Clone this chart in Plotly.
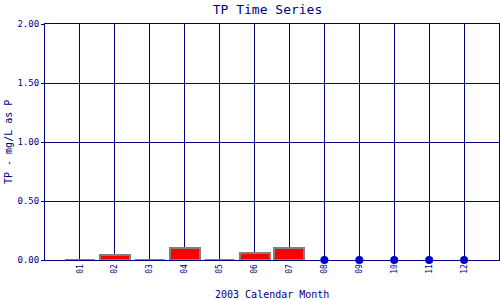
import plotly.graph_objects as go

months = [1, 2, 3, 4, 5, 6, 7, 8, 9, 10, 11, 12]
month_labels = ["01", "02", "03", "04", "05", "06", "07", "08", "09", "10", "11", "12"]
# measured TP values (mg/L as P); None = no sample (shown as dot)
tp_values = [0.0, 0.04, 0.0, 0.10, 0.0, 0.06, 0.10, None, None, None, None, None]
y_ticks = [0.0, 0.5, 1.0, 1.5, 2.0]

NAVY = "#000080"
FONT = "DejaVu Sans Mono"
BAR_W = 0.86

bar_x = [m for m, v in zip(months, tp_values) if v is not None and v > 0]
bar_y = [v for v in tp_values if v is not None and v > 0]

zero_x, zero_y = [], []
for m, v in zip(months, tp_values):
    if v == 0:
        zero_x += [m - BAR_W / 2, m + BAR_W / 2, None]
        zero_y += [0, 0, None]

dot_x = [m for m, v in zip(months, tp_values) if v is None]
dot_y = [0 for _ in dot_x]

fig = go.Figure()
fig.add_trace(go.Bar(x=bar_x, y=bar_y, width=BAR_W,
                     marker=dict(color="#FF0000", line=dict(color="#808080", width=2)),
                     cliponaxis=False, showlegend=False))
fig.add_trace(go.Scatter(x=zero_x, y=zero_y, mode="lines",
                         line=dict(color="#808080", width=2), cliponaxis=False,
                         showlegend=False))
fig.add_trace(go.Scatter(x=dot_x, y=dot_y, mode="markers",
                         marker=dict(color="#0000CC", size=8), cliponaxis=False,
                         showlegend=False))

fig.update_layout(
    width=500, height=300,
    margin=dict(l=45, r=1, t=24, b=40),
    paper_bgcolor="white", plot_bgcolor="white",
    font=dict(family=FONT, color=NAVY),
    title=dict(text="TP Time Series", x=0.535, xanchor="center", y=1 - 9 / 300,
               yanchor="middle", font=dict(family=FONT, size=13, color=NAVY)),
    bargap=0,
    xaxis=dict(range=[0, 13], tickmode="array", tickvals=months, ticktext=month_labels,
               tickangle=-90, tickfont=dict(family=FONT, size=8, color=NAVY),
               showgrid=True, gridcolor=NAVY, gridwidth=1,
               showline=True, linecolor=NAVY, linewidth=1, mirror=True,
               ticks="", zeroline=False, fixedrange=True, layer="below traces"),
    yaxis=dict(range=[0, 2], tickmode="array", tickvals=y_ticks, tickformat=".2f",
               tickfont=dict(family=FONT, size=9, color=NAVY),
               showgrid=True, gridcolor=NAVY, gridwidth=1,
               showline=True, linecolor=NAVY, linewidth=1, mirror=True,
               ticks="outside", ticklen=3, tickcolor=NAVY,
               zeroline=False, fixedrange=True, layer="below traces"),
    annotations=[
        dict(text="2003 Calendar Month", xref="paper", yref="paper", x=0.5, y=0,
             xanchor="center", yanchor="middle", yshift=-34, showarrow=False,
             font=dict(family=FONT, size=10, color=NAVY)),
        dict(text="TP - mg/L as P", xref="paper", yref="paper", x=0, y=0.5,
             xanchor="center", yanchor="middle", xshift=-37, textangle=-90,
             showarrow=False, font=dict(family=FONT, size=10, color=NAVY)),
    ],
)

fig.write_html("out.html")
